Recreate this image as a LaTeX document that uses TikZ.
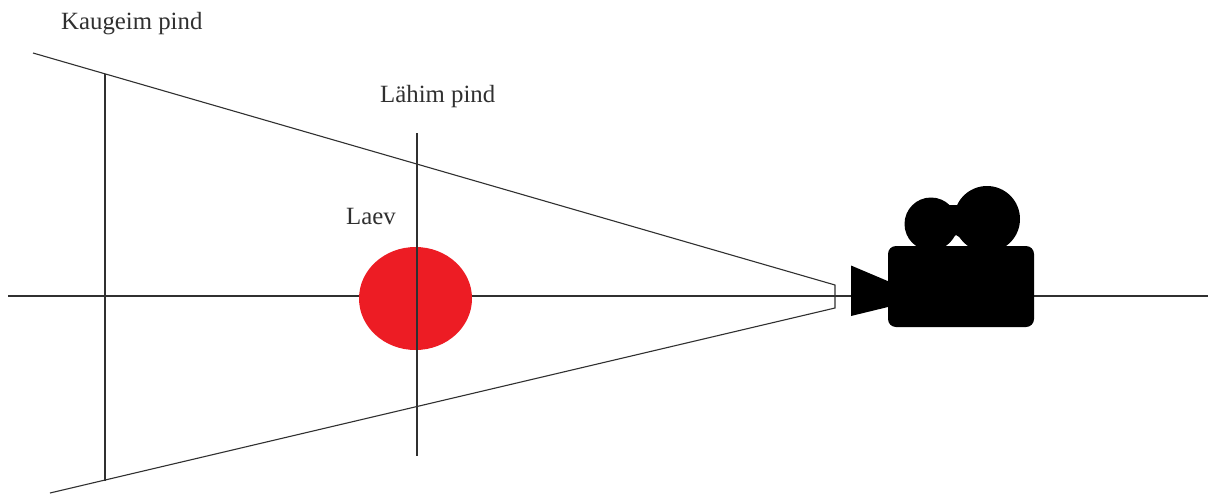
\documentclass[tikz,border=0pt]{standalone}
\usepackage{fontspec}
\usetikzlibrary{shapes.geometric}
\setmainfont{Liberation Serif}
\definecolor{shipred}{HTML}{ED1C24}
\definecolor{inkline}{HTML}{303030}
\tikzset{
  ln/.style={draw=inkline,line width=1.1pt},
  lbl/.style={anchor=base west,inner sep=0pt,text=inkline,font=\fontsize{24.8}{30}\selectfont},
  blk/.style={fill=black,draw=none}
}
\begin{document}
\begin{tikzpicture}[x=1pt,y=-1pt]
\useasboundingbox (0,0) rectangle (1208,498);
\fill[white] (0,0) rectangle (1208,498);
% axis ends and frustum corners
\coordinate (axisL) at (8,296);
\coordinate (axisR) at (1208,296);
\coordinate (topL) at (33,53);
\coordinate (botL) at (50,493);
\coordinate (topR) at (835,285);
\coordinate (botR) at (835,308);
\coordinate (farT) at (105,74);
\coordinate (farB) at (105,481);
\coordinate (nearT) at (417,133);
\coordinate (nearB) at (417,456);
% axis runs behind the ship
\draw[ln] (axisL) -- (axisR);
% ship
\node[ellipse,fill=shipred,draw=none,inner sep=0pt,minimum width=113pt,minimum height=103pt] (ship) at (415.5,298.5) {};
% lines
\draw[ln] (topL) -- (topR) -- (botR) -- (botL);
\draw[ln] (farT) -- (farB);
\draw[ln] (nearT) -- (nearB);
% camera
\fill[blk,rounded corners=8pt] (888,246) rectangle (1034,327);
\fill[blk] (931,224) circle (26.5);
\fill[blk] (987,219) circle (33);
\fill[blk] (945,205) -- (970,205) -- (964,240) -- (956,235) -- (950,240) -- cycle;
\fill[blk] (851,265.5) -- (890,282) -- (890,306.5) -- (851,316) -- cycle;
% labels
\node[lbl] (far) at (61,29) {Kaugeim pind};
\node[lbl] (near) at (380,102) {Lähim pind};
\node[lbl] (laev) at (346,224) {Laev};
\end{tikzpicture}
\end{document}
